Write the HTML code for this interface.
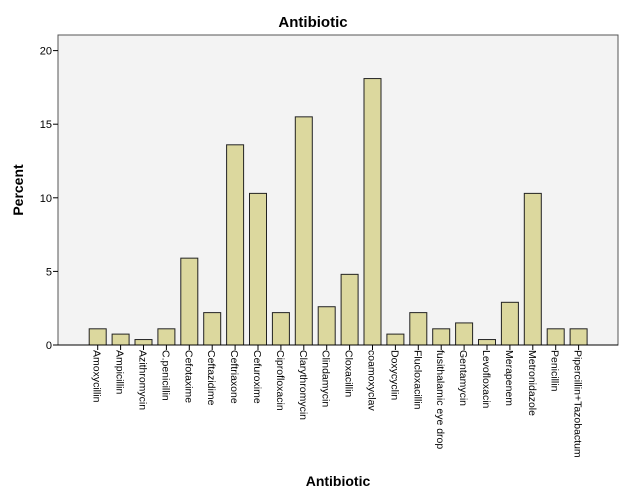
<!DOCTYPE html>
<html><head><meta charset="utf-8"><style>
html,body{margin:0;padding:0;background:#fff;width:626px;height:501px;overflow:hidden}
svg text{font-family:"Liberation Sans",sans-serif;fill:#000}
</style></head><body>
<svg id="chart" width="626" height="501" xmlns="http://www.w3.org/2000/svg">
<rect x="0" y="0" width="626" height="501" fill="#fff"/>
<text x="313" y="27" font-size="15" font-weight="bold" text-anchor="middle">Antibiotic</text>
<rect x="58" y="35" width="560" height="310" fill="#f3f3f3" stroke="#555" stroke-width="1"/>
<g id="bars"></g>
<g id="yaxis"></g>
<g id="xaxis"></g>
<text transform="translate(23,190) rotate(-90)" font-size="14" font-weight="bold" text-anchor="middle">Percent</text>
<text x="338" y="486" font-size="14" font-weight="bold" text-anchor="middle">Antibiotic</text>
</svg>
<script>
const categories=["Amoxycillin","Ampicillin","Azithromycin","C.penicillin","Cefotaxime","Ceftazidime","Ceftriaxone","Cefuroxime","Ciprofloxacin","Clarythromycin","Clindamycin","Cloxacillin","coamoxyclav","Doxycyclin","Flucloxacillin","fusithalamic eye drop","Gentamycin","Levofloxacin","Merapenem","Metronidazole","Penicillin","Pipercillin+Tazobactum"];
const values=[1.1,0.74,0.37,1.1,5.9,2.2,13.6,10.3,2.2,15.5,2.6,4.8,18.1,0.74,2.2,1.1,1.5,0.37,2.9,10.3,1.1,1.1];
const yTicks=[0,5,10,15,20];
const NS="http://www.w3.org/2000/svg";
function y(v){return 345-v*14.72;}
function x(i){return 97.7+i*22.9;}
const bw=17;
const bars=document.getElementById('bars'),ya=document.getElementById('yaxis'),xa=document.getElementById('xaxis');
values.forEach((v,i)=>{
 const r=document.createElementNS(NS,'rect');
 
 
 r.setAttribute('x',x(i)-bw/2);r.setAttribute('y',y(v));
 r.setAttribute('width',bw);r.setAttribute('height',345-y(v));
 r.setAttribute('fill','#dcd89e');r.setAttribute('stroke','#222');r.setAttribute('stroke-width','1');
 bars.appendChild(r);
 const t=document.createElementNS(NS,'line');
 
 
 t.setAttribute('x1',x(i));t.setAttribute('x2',x(i));t.setAttribute('y1',345);t.setAttribute('y2',350);t.setAttribute('stroke','#000');
 xa.appendChild(t);
 const l=document.createElementNS(NS,'text');
 
 
 l.setAttribute('transform','translate('+(x(i)-4)+',350) rotate(90)');
 l.setAttribute('font-size','10.5');
 l.textContent=categories[i];
 xa.appendChild(l);
});
const base=document.createElementNS(NS,'line');


base.setAttribute('x1',58);base.setAttribute('x2',618);base.setAttribute('y1',345);base.setAttribute('y2',345);base.setAttribute('stroke','#000');
xa.appendChild(base);
yTicks.forEach(v=>{
 const t=document.createElementNS(NS,'line');
 
 
 t.setAttribute('x1',53);t.setAttribute('x2',58);t.setAttribute('y1',y(v));t.setAttribute('y2',y(v));t.setAttribute('stroke','#000');
 ya.appendChild(t);
 const l=document.createElementNS(NS,'text');
 
 
 l.setAttribute('x',52);l.setAttribute('y',y(v)+4);l.setAttribute('font-size','11');l.setAttribute('text-anchor','end');
 l.textContent=v;
 ya.appendChild(l);
});
</script>
</body></html>
